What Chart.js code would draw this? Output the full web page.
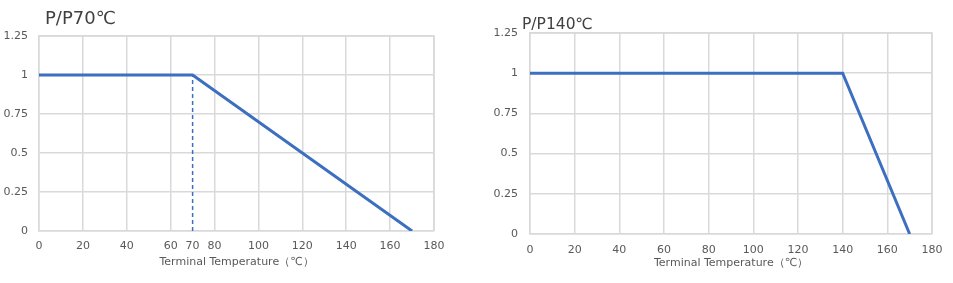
<!DOCTYPE html>
<html>
<head>
<meta charset="utf-8">
<script src="https://cdn.jsdelivr.net/npm/chart.js@4.4.0/dist/chart.umd.min.js"></script>
<style>
  body { margin: 0; background: #fff; width: 953px; height: 283px; position: relative; overflow: hidden; }
  .box { position: absolute; top: 0; height: 283px; }
  .ttl { position: absolute; font-family: "DejaVu Sans", sans-serif; color: #404040; white-space: nowrap; }
</style>
</head>
<body>
<div class="box" style="left:0;width:480px"><canvas id="c1" width="480" height="283"></canvas></div>
<div class="box" style="left:480px;width:473px"><canvas id="c2" width="473" height="283"></canvas></div>
<div class="ttl" style="left:45px;top:7px;font-size:18px">P/P70℃</div>
<div class="ttl" style="left:522px;top:15px;font-size:15.5px">P/P140℃</div>
<script>
// derating curves
var tempA = [0, 70, 170];
var powerA = [1, 1, 0];
var markX = [70, 70];
var markY = [0, 1];

var tempB = [0, 140, 170];
var powerB = [1, 1, 0];

var xTicks = [0, 20, 40, 60, 80, 100, 120, 140, 160, 180];
var xTicksA = [0, 20, 40, 60, 70, 80, 100, 120, 140, 160, 180];
var yTicks = [0, 0.25, 0.5, 0.75, 1, 1.25];
var xTitle = 'Terminal Temperature（℃）';

var BLUE = '#3d6fc1';
var GRID = '#d9d9d9';
var TXT = '#595959';
var FONT = "'DejaVu Sans', sans-serif";

function pts(xs, ys) {
  return xs.map(function (x, i) { return {x: x, y: ys[i]}; });
}

function makeChart(id, datasets, ticksX, box) {
  return new Chart(document.getElementById(id), {
    type: 'line',
    data: { datasets: datasets },
    options: {
      responsive: false,
      animation: false,
      layout: { padding: { left: 0, right: box.right, top: box.top, bottom: 0 } },
      plugins: { legend: { display: false }, tooltip: { enabled: false } },
      elements: { point: { radius: 0 }, line: { tension: 0 } },
      scales: {
        x: {
          type: 'linear', min: 0, max: 180,
          afterBuildTicks: function (s) { s.ticks = ticksX.map(function (v) { return {value: v}; }); },
          afterFit: function (s) { s.height = box.xh; },
          grid: {
            color: function (c) { return c.tick && c.tick.value === 70 ? 'rgba(0,0,0,0)' : GRID; },
            lineWidth: 1.5, drawTicks: false
          },
          border: { color: GRID, width: 1.5 },
          ticks: { autoSkip: false, maxRotation: 0, padding: box.xpad, color: TXT, font: { family: FONT, size: 11 } },
          title: { display: true, text: xTitle, color: TXT, font: { family: FONT, size: 11 }, padding: { top: 0, bottom: box.tpad } }
        },
        y: {
          type: 'linear', min: 0, max: 1.25,
          afterBuildTicks: function (s) { s.ticks = yTicks.map(function (v) { return {value: v}; }); },
          afterFit: function (s) { s.width = box.yw; },
          grid: { color: GRID, lineWidth: 1.5, drawTicks: false },
          border: { color: GRID, width: 1.5 },
          ticks: { padding: box.ypad, color: TXT, font: { family: FONT, size: 11 }, callback: function (v) { return String(v); } }
        }
      }
    },
    plugins: [{
      id: 'rightBorder',
      beforeDatasetsDraw: function (chart) {
        var a = chart.chartArea, ctx = chart.ctx;
        ctx.save();
        ctx.strokeStyle = GRID; ctx.lineWidth = 1.5;
        ctx.beginPath();
        ctx.moveTo(a.left, a.top); ctx.lineTo(a.right, a.top); ctx.lineTo(a.right, a.bottom);
        ctx.stroke();
        ctx.restore();
      }
    }]
  });
}

makeChart('c1', [
  { data: pts(tempA, powerA), borderColor: BLUE, borderWidth: 3, fill: false },
  { data: pts(markX, markY), borderColor: BLUE, borderWidth: 1.5, borderDash: [4, 3], fill: false }
], xTicksA, { right: 46, top: 36, xh: 52, xpad: 9, tpad: 14, yw: 39, ypad: 11 });

makeChart('c2', [
  { data: pts(tempB, powerB), borderColor: BLUE, borderWidth: 3, fill: false }
], xTicks, { right: 21, top: 33, xh: 49, xpad: 10, tpad: 13, yw: 50, ypad: 12 });
</script>
</body>
</html>
